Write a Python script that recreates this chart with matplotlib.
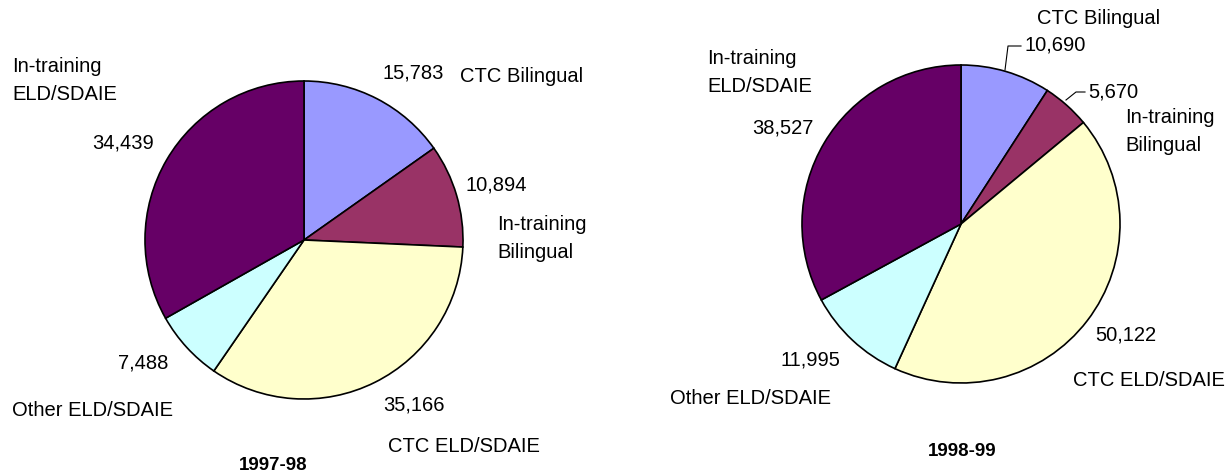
import matplotlib.pyplot as plt

plt.rcParams['font.family'] = ['Liberation Sans', 'DejaVu Sans']

# Data
categories = ['CTC Bilingual', 'In-training Bilingual', 'CTC ELD/SDAIE',
              'Other ELD/SDAIE', 'In-training ELD/SDAIE']
values_9798 = [15783, 10894, 35166, 7488, 34439]
values_9899 = [10690, 5670, 50122, 11995, 38527]
titles = ['1997-98', '1998-99']
colors = ['#9999FF', '#993366', '#FFFFCC', '#CCFFFF', '#660066']

W, H = 1230, 476
fig = plt.figure(figsize=(W / 100, H / 100), dpi=100)

R = 159  # pie radius in pixels


def add_pie(cx, cy, vals):
    ax = fig.add_axes([(cx - R) / W, (H - cy - R) / H, 2 * R / W, 2 * R / H])
    ax.pie(vals, colors=colors, startangle=90, counterclock=False,
           wedgeprops=dict(edgecolor='black', linewidth=1.2))
    ax.set_xlim(-1, 1)
    ax.set_ylim(-1, 1)
    return ax


def put(ax, cx, cy, px, py, s, size=14.5, **kw):
    # pixel position -> data coords (radius units)
    ax.text((px - cx) / R, (cy - py) / R, s, fontsize=size, va='center',
            clip_on=False, **kw)


def fmt(v):
    return f'{v:,}'


# 1997-98
cx1, cy1 = 304, 240
ax1 = add_pie(cx1, cy1, values_9798)
label_pos1 = [
    # (value pos, name pos, name text)
    ((383, 73), (460, 76), 'CTC Bilingual'),
    ((466, 185), (497, 238), 'In-training\nBilingual'),
    ((383, 405), (388, 446), 'CTC ELD/SDAIE'),
    ((118, 363), (12, 410), 'Other ELD/SDAIE'),
    ((92, 143), (12, 80), 'In-training\nELD/SDAIE'),
]
for v, (vp, np_, name) in zip(values_9798, label_pos1):
    put(ax1, cx1, cy1, vp[0], vp[1], fmt(v))
    put(ax1, cx1, cy1, np_[0], np_[1], name, linespacing=1.6)
put(ax1, cx1, cy1, 273, 466, titles[0], size=13.5, ha='center', fontweight='bold')

# 1998-99
cx2, cy2 = 961, 224
ax2 = add_pie(cx2, cy2, values_9899)
label_pos2 = [
    ((1025, 45), (1037, 18), 'CTC Bilingual'),
    ((1088, 92), (1125, 131), 'In-training\nBilingual'),
    ((1095, 335), (1073, 380), 'CTC ELD/SDAIE'),
    ((780, 360), (670, 398), 'Other ELD/SDAIE'),
    ((752, 128), (707, 72), 'In-training\nELD/SDAIE'),
]
for v, (vp, np_, name) in zip(values_9899, label_pos2):
    put(ax2, cx2, cy2, vp[0], vp[1], fmt(v))
    put(ax2, cx2, cy2, np_[0], np_[1], name, linespacing=1.6)
put(ax2, cx2, cy2, 962, 452, titles[1], size=13.5, ha='center', fontweight='bold')

# leader lines for small slices
leaders = [[(1005, 70), (1008, 46), (1021, 46)],
           [(1066, 100), (1076, 92), (1085, 92)]]
for pts in leaders:
    xs = [(p[0] - cx2) / R for p in pts]
    ys = [(cy2 - p[1]) / R for p in pts]
    ax2.plot(xs, ys, color='black', linewidth=0.8, clip_on=False)

fig.savefig('out.png', dpi=100, facecolor='white')
